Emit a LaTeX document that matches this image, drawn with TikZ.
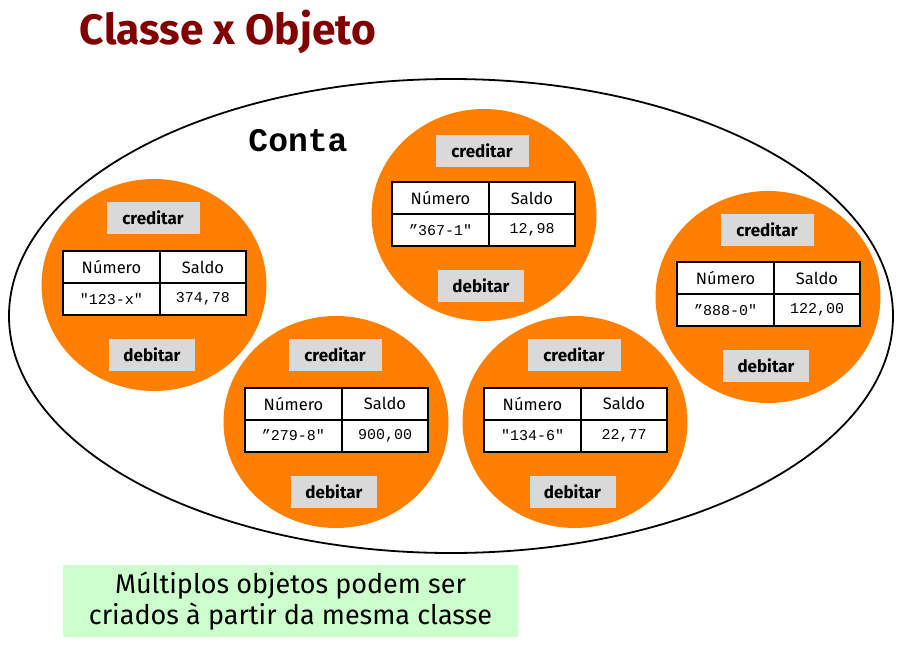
\documentclass[tikz,border=0pt]{standalone}
\usepackage{fontspec}
\setmainfont{Fira Sans}
\setmonofont{Liberation Mono}
\usetikzlibrary{positioning, shapes.geometric}

\definecolor{laranja}{RGB}{255,128,0}
\definecolor{cinza}{RGB}{217,217,217}
\definecolor{verdeclaro}{RGB}{204,255,204}
\definecolor{vinho}{RGB}{128,0,0}

\begin{document}
\begin{tikzpicture}[x=1pt, y=-1pt,
    classe/.style={draw, ellipse, line width=1.8pt, minimum width=884,
        minimum height=474, inner sep=0pt},
    objeto/.style={ellipse, fill=laranja, minimum width=225,
        minimum height=212, inner sep=0pt},
    metodo/.style={fill=cinza, minimum width=86, minimum height=32,
        inner sep=0pt, font=\fontsize{17}{20}\selectfont\bfseries},
    numcel/.style={draw, line width=2pt, fill=white, outer sep=0pt,
        minimum width=97, minimum height=32, inner sep=0pt},
    saldocel/.style={numcel, minimum width=86},
    cab/.style={font=\fontsize{16.5}{19}\selectfont},
    val/.style={font=\ttfamily\fontsize{15}{18}\selectfont},
]
    \useasboundingbox (0,0) rectangle (899,645);

    \node[font=\fontsize{42.5}{48}\selectfont\bfseries, text=vinho] (titulo)
        at (228,32) {Classe x Objeto};

    \node[classe] (conta) at (451,316) {};
    \node[font=\ttfamily\bfseries\fontsize{33}{36}\selectfont] (nome)
        at (298,141) {Conta};

    % objeto 1
    \node[objeto] (o1) at (154,285) {};
    \coordinate (k1) at (160,283);
    \node[numcel, cab, anchor=south east] (n1) at (k1) {Número};
    \node[saldocel, cab, anchor=south west] (s1) at (k1) {Saldo};
    \node[numcel, val, anchor=north east] (nv1) at (k1) {"123-x"};
    \node[saldocel, val, anchor=north west] (sv1) at (k1) {374,78};
    \node[metodo, minimum width=93] (cr1) at (153,218) {creditar};
    \node[metodo] (db1) at (152,355) {debitar};

    % objeto 2
    \node[objeto] (o2) at (484,215) {};
    \coordinate (k2) at (489,214);
    \node[numcel, cab, anchor=south east] (n2) at (k2) {Número};
    \node[saldocel, cab, anchor=south west] (s2) at (k2) {Saldo};
    \node[numcel, val, anchor=north east] (nv2) at (k2) {”367-1"};
    \node[saldocel, val, anchor=north west] (sv2) at (k2) {12,98};
    \node[metodo, minimum width=93] (cr2) at (482,151) {creditar};
    \node[metodo] (db2) at (481,286) {debitar};

    % objeto 3
    \node[objeto] (o3) at (768,297) {};
    \coordinate (k3) at (774,294);
    \node[numcel, cab, anchor=south east] (n3) at (k3) {Número};
    \node[saldocel, cab, anchor=south west] (s3) at (k3) {Saldo};
    \node[numcel, val, anchor=north east] (nv3) at (k3) {”888-0"};
    \node[saldocel, val, anchor=north west] (sv3) at (k3) {122,00};
    \node[metodo, minimum width=93] (cr3) at (767,230) {creditar};
    \node[metodo] (db3) at (766,366) {debitar};

    % objeto 4
    \node[objeto] (o4) at (336,422) {};
    \coordinate (k4) at (342,419.5);
    \node[numcel, cab, anchor=south east] (n4) at (k4) {Número};
    \node[saldocel, cab, anchor=south west] (s4) at (k4) {Saldo};
    \node[numcel, val, anchor=north east] (nv4) at (k4) {”279-8"};
    \node[saldocel, val, anchor=north west] (sv4) at (k4) {900,00};
    \node[metodo, minimum width=93] (cr4) at (335,355) {creditar};
    \node[metodo] (db4) at (334,491.5) {debitar};

    % objeto 5
    \node[objeto] (o5) at (575,422) {};
    \coordinate (k5) at (581,419.5);
    \node[numcel, cab, anchor=south east] (n5) at (k5) {Número};
    \node[saldocel, cab, anchor=south west] (s5) at (k5) {Saldo};
    \node[numcel, val, anchor=north east] (nv5) at (k5) {"134-6"};
    \node[saldocel, val, anchor=north west] (sv5) at (k5) {22,77};
    \node[metodo, minimum width=93] (cr5) at (574,355) {creditar};
    \node[metodo] (db5) at (572.5,491.5) {debitar};

    \node[fill=verdeclaro, minimum width=455, minimum height=72, inner sep=0pt,
        align=center, font=\fontsize{27}{31}\selectfont] (nota)
        at (290.5,601) {Múltiplos objetos podem ser\\criados à partir da mesma classe};
\end{tikzpicture}
\end{document}
